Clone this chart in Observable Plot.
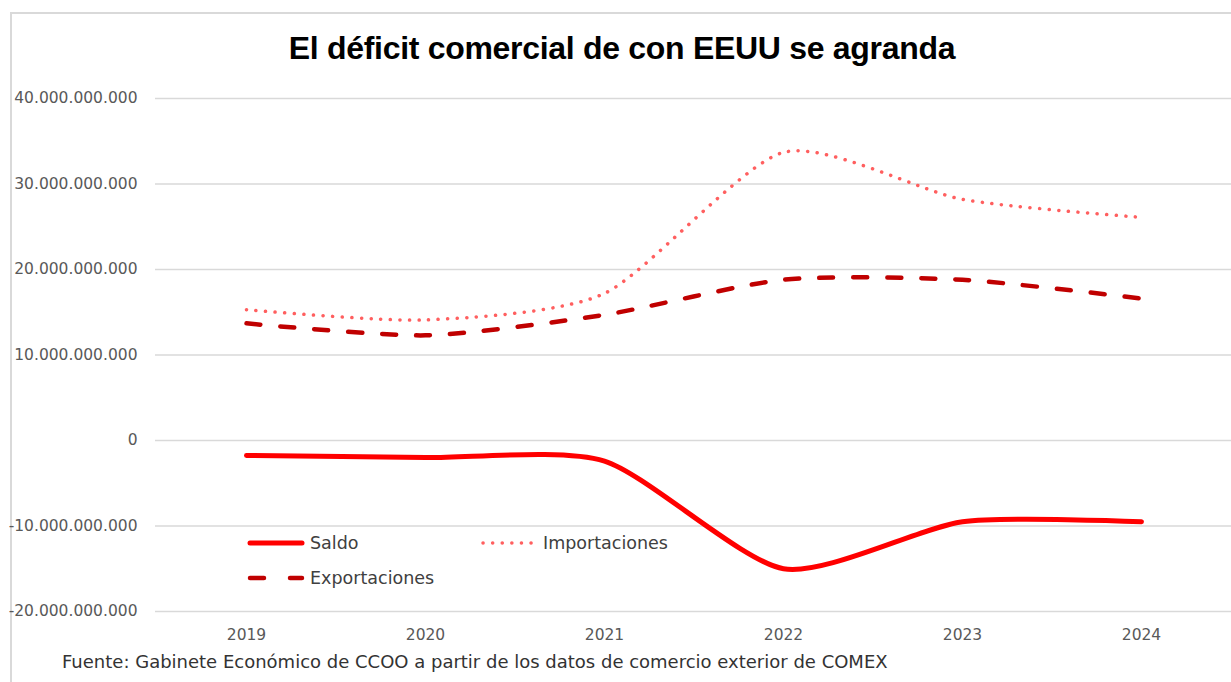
<!DOCTYPE html>
<html>
<head>
<meta charset="utf-8">
<script src="https://cdn.jsdelivr.net/npm/d3@7"></script>
<script src="https://cdn.jsdelivr.net/npm/@observablehq/plot@0.6"></script>
<style>
  html, body { margin: 0; padding: 0; background: #fff; }
  #wrap { position: relative; width: 1231px; height: 682px; overflow: hidden; }
  #frame { position: absolute; left: 10px; top: 12px; width: 1240px; height: 700px; border: 2px solid #d9d9d9; box-sizing: border-box; }
  #title { position: absolute; left: 0; width: 1244px; top: 30px; text-align: center; font-family: "Liberation Sans", Arial, sans-serif; font-weight: bold; font-size: 32px; color: #000; letter-spacing: -0.3px; }
  #caption { position: absolute; left: 62px; top: 651px; font-family: "DejaVu Sans", sans-serif; font-size: 18px; color: #333; }
  #chart { position: absolute; left: 0; top: 0; }
  .leg { position: absolute; display: flex; align-items: center; font-family: "DejaVu Sans", sans-serif; font-size: 17.5px; color: #404040; }
  .leg svg { margin-right: 4px; }
</style>
</head>
<body>
<div id="wrap">
  <div id="frame"></div>
  <div id="chart"></div>
  <div id="title">El déficit comercial de con EEUU se agranda</div>
  <div id="legend"></div>
  <div id="caption">Fuente: Gabinete Económico de CCOO a partir de los datos de comercio exterior de COMEX</div>
</div>
<script>
const years = ["2019", "2020", "2021", "2022", "2023", "2024"];
const saldo = [-1.75e9, -2.0e9, -2.4e9, -15.0e9, -9.5e9, -9.5e9];
const importaciones = [15.3e9, 14.1e9, 17.2e9, 33.7e9, 28.2e9, 26.1e9];
const exportaciones = [13.7e9, 12.3e9, 14.7e9, 18.8e9, 18.8e9, 16.6e9];
const yTicks = [-20e9, -10e9, 0, 10e9, 20e9, 30e9, 40e9];
const seriesNames = ["Saldo", "Importaciones", "Exportaciones"];

const styles = {
  Saldo: {stroke: "#ff0000", strokeWidth: 5, strokeDasharray: null, strokeLinecap: "round"},
  Importaciones: {stroke: "#ff5f5f", strokeWidth: 3.5, strokeDasharray: "0.1 9.5", strokeLinecap: "round"},
  Exportaciones: {stroke: "#c00000", strokeWidth: 4.5, strokeDasharray: "14 20", strokeLinecap: "round"}
};

const table = (vals) => years.map((y, i) => ({year: y, value: vals[i]}));
const seriesData = {Saldo: table(saldo), Importaciones: table(importaciones), Exportaciones: table(exportaciones)};

const locale = d3.formatLocale({decimal: ",", thousands: ".", grouping: [3], currency: ["", " €"], minus: "-"});
const fmt = locale.format(",");
const curveOpts = {curve: "cardinal", tension: 0.3};

const plot = Plot.plot({
  width: 1231,
  height: 682,
  marginTop: 98,
  marginBottom: 71,
  marginLeft: 155,
  marginRight: 0,
  style: {fontFamily: "DejaVu Sans, sans-serif", fontSize: "15.5px", color: "#595959", background: "transparent"},
  x: {type: "point", domain: years, padding: 0.5, label: null},
  y: {domain: [-20e9, 40e9], label: null},
  marks: [
    Plot.ruleY(yTicks, {stroke: "#d9d9d9", strokeWidth: 1.5, strokeOpacity: 1}),
    Plot.axisY({ticks: yTicks, tickFormat: fmt, tickSize: 0, tickPadding: 18, label: null, fontSize: 15.5, fill: "#595959"}),
    Plot.axisX({tickSize: 0, tickPadding: 17, label: null, fontSize: 15.5, fill: "#595959"}),
    Plot.line(seriesData.Exportaciones, {x: "year", y: "value", ...curveOpts, ...styles.Exportaciones}),
    Plot.line(seriesData.Importaciones, {x: "year", y: "value", ...curveOpts, ...styles.Importaciones}),
    Plot.line(seriesData.Saldo, {x: "year", y: "value", ...curveOpts, ...styles.Saldo})
  ]
});
document.getElementById("chart").appendChild(plot);

// Legend (inside the plot area, as in the reference)
const legendPos = {Saldo: [246, 531], Importaciones: [479, 531], Exportaciones: [246, 566]};
const legend = document.getElementById("legend");
for (const name of seriesNames) {
  const s = styles[name];
  const div = document.createElement("div");
  div.className = "leg";
  div.style.left = legendPos[name][0] + "px";
  div.style.top = legendPos[name][1] + "px";
  div.style.height = "24px";
  const w = 60;
  div.innerHTML = `<svg width="${w}" height="10"><line x1="4" x2="${w - 4}" y1="5" y2="5" stroke="${s.stroke}" stroke-width="${s.strokeWidth}" stroke-linecap="round" ${s.strokeDasharray ? `stroke-dasharray="${name === "Exportaciones" ? "14 26" : "0.1 9.5"}"` : ""}/></svg><span>${name}</span>`;
  legend.appendChild(div);
}
</script>
</body>
</html>
